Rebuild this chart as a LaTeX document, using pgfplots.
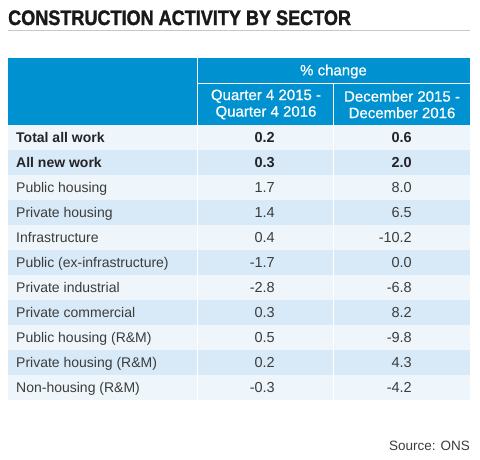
\documentclass[border=0pt]{standalone}
\usepackage{pgfplots}
\pgfplotsset{compat=1.18}
\usepackage{pgfplotstable}
\usepackage{fontspec}
\setmainfont{Liberation Sans}
\newfontfamily\hdrfont{Liberation Sans}[FakeBold=0.6]
\newfontfamily\titlefont{Liberation Sans Bold}[FakeBold=1.6]
\definecolor{hdr}{RGB}{0,146,208}
\definecolor{rowA}{RGB}{238,246,251}
\definecolor{rowB}{RGB}{216,234,247}
\definecolor{txt}{RGB}{60,60,60}
\definecolor{txtb}{RGB}{35,35,40}
\definecolor{rule}{RGB}{200,200,200}

% y = row centre in pixels from top
\pgfplotstableread[col sep=comma]{
y,label,q,d
137.5,Total all work,0.2,0.6
162.5,All new work,0.3,2.0
}\boldrows
\pgfplotstableread[col sep=comma]{
y,label,q,d
187.5,Public housing,1.7,8.0
212.5,Private housing,1.4,6.5
237.5,Infrastructure,0.4,-10.2
262.5,Public (ex-infrastructure),-1.7,0.0
287.5,Private industrial,-2.8,-6.8
312.5,Private commercial,0.3,8.2
337.5,Public housing (R\&M),0.5,-9.8
362.5,Private housing (R\&M),0.2,4.3
387.5,Non-housing (R\&M),-0.3,-4.2
}\normalrows

\begin{document}
\begin{tikzpicture}
\path (0,0) rectangle (480pt,459pt);
\begin{axis}[
  at={(0,0)}, anchor=south west,
  scale only axis, width=480pt, height=459pt,
  xmin=0, xmax=480, ymin=0, ymax=459, y dir=reverse,
  hide axis, clip=false,
]
% title and rule
\node[anchor=base west, inner sep=0pt, text=black!90] at (axis cs:8,25)
  {\scalebox{0.86}[1]{\fontsize{21}{21}\selectfont\titlefont CONSTRUCTION ACTIVITY BY SECTOR}};
\draw[rule, line width=0.6pt] (axis cs:8,30) -- (axis cs:470,30);
% header
\fill[hdr] (axis cs:8,58) rectangle (axis cs:470,125);
% rows
\pgfplotsinvokeforeach{0,2,4,6,8,10}{
  \fill[rowA] (axis cs:8,{125+25*#1}) rectangle (axis cs:470,{150+25*#1});
}
\pgfplotsinvokeforeach{1,3,5,7,9}{
  \fill[rowB] (axis cs:8,{125+25*#1}) rectangle (axis cs:470,{150+25*#1});
}
\draw[white, line width=1pt] (axis cs:197,58) -- (axis cs:197,400);
\draw[white, line width=1pt] (axis cs:333,83) -- (axis cs:333,400);
\draw[white, line width=1pt] (axis cs:197,83) -- (axis cs:470,83);
% header text
\node[text=white, inner sep=0pt, font=\fontsize{15}{15}\selectfont\hdrfont] at (axis cs:333.5,71.5) {\% change};
\node[text=white, inner sep=0pt, align=center, font=\fontsize{15}{16.5}\selectfont\hdrfont] at (axis cs:266,104.5)
  {Quarter 4 2015 -\\Quarter 4 2016};
\node[text=white, inner sep=0pt, align=center, font=\fontsize{15}{16.5}\selectfont\hdrfont] at (axis cs:402,104.5)
  {December 2015 -\\December 2016};
% bold rows
\addplot[only marks, mark=none, point meta=explicit symbolic, nodes near coords,
  nodes near coords style={anchor=base west, inner sep=0pt, text=txtb,
    font=\fontsize{14}{14}\selectfont\bfseries}]
  table[x expr=16, y expr=\thisrow{y}+5, meta=label] {\boldrows};
\addplot[only marks, mark=none, point meta=explicit symbolic, nodes near coords,
  nodes near coords style={anchor=base east, inner sep=0pt, text=txtb,
    font=\fontsize{14.5}{14}\selectfont\bfseries}]
  table[x expr=275, y expr=\thisrow{y}+5, meta=q] {\boldrows};
\addplot[only marks, mark=none, point meta=explicit symbolic, nodes near coords,
  nodes near coords style={anchor=base east, inner sep=0pt, text=txtb,
    font=\fontsize{14.5}{14}\selectfont\bfseries}]
  table[x expr=412, y expr=\thisrow{y}+5, meta=d] {\boldrows};
% normal rows
\addplot[only marks, mark=none, point meta=explicit symbolic, nodes near coords,
  nodes near coords style={anchor=base west, inner sep=0pt, text=txt,
    font=\fontsize{14}{14}\selectfont}]
  table[x expr=16, y expr=\thisrow{y}+5, meta=label] {\normalrows};
\addplot[only marks, mark=none, point meta=explicit symbolic, nodes near coords,
  nodes near coords style={anchor=base east, inner sep=0pt, text=txt,
    font=\fontsize{14.5}{14}\selectfont}]
  table[x expr=275, y expr=\thisrow{y}+5, meta=q] {\normalrows};
\addplot[only marks, mark=none, point meta=explicit symbolic, nodes near coords,
  nodes near coords style={anchor=base east, inner sep=0pt, text=txt,
    font=\fontsize{14.5}{14}\selectfont}]
  table[x expr=412, y expr=\thisrow{y}+5, meta=d] {\normalrows};
% source
\node[anchor=base east, inner sep=0pt, text=txt] at (axis cs:470,450)
  {\fontsize{13.5}{13}\selectfont Source: ONS};
\end{axis}
\end{tikzpicture}
\end{document}
